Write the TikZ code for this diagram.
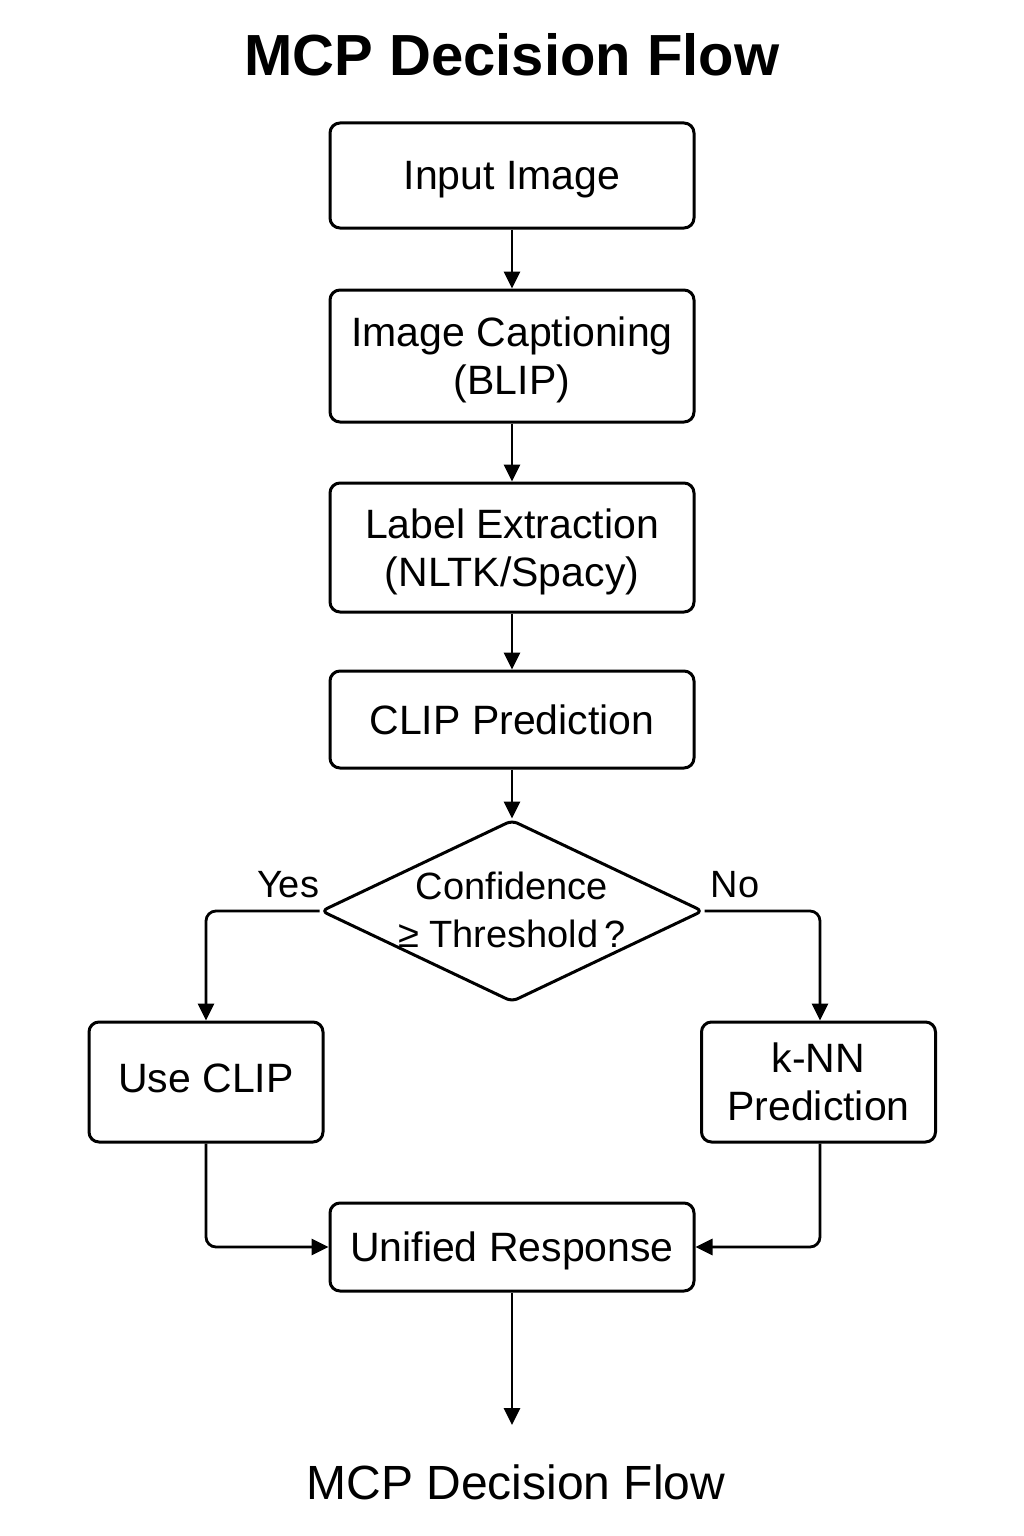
\documentclass[tikz,border=0pt]{standalone}
\usepackage{fontspec}
\setmainfont{Liberation Sans}
\usetikzlibrary{arrows.meta,shapes.geometric}
\begin{document}
\begin{tikzpicture}[x=1pt,y=-1pt,
  box/.style={draw=black,line width=3pt,rounded corners=10pt,inner sep=0pt,
    minimum width=364pt,align=center,text depth=0pt,font=\fontsize{41}{48}\selectfont},
  sidebox/.style={box,minimum width=234pt,minimum height=120pt},
  conn/.style={draw=black,line width=2.8pt,-{Triangle[length=17pt,width=16pt]}},
  lbl/.style={font=\fontsize{38}{44}\selectfont,inner sep=0pt}]
\useasboundingbox[fill=white] (0,0) rectangle (1024,1536);
\node[font=\fontsize{58}{64}\selectfont\bfseries] (title) at (512,55) {MCP Decision Flow};
\node[box,minimum height=105pt] (in) at (512,175.5) {Input Image};
\node[box,minimum height=132pt] (cap) at (512,356) {Image Captioning\\(BLIP)};
\node[box,minimum height=129pt] (lab) at (512,547.5) {Label Extraction\\(NLTK/Spacy)};
\node[box,minimum height=97pt] (clip) at (512,719.5) {CLIP Prediction};
\node[diamond,draw=black,line width=3pt,rounded corners=6pt,inner sep=0pt,
  minimum width=382pt,minimum height=182pt] (dec) at (512,911) {};
\node[lbl,align=center,text depth=0pt,font=\fontsize{38}{48}\selectfont] (dectext) at (512,910) {Confidence\\≥ Threshold\,?};
\node[lbl] (yes) at (288,885) {Yes};
\node[lbl] (no) at (735,885) {No};
\node[sidebox] (use) at (206,1082) {\raisebox{7pt}{Use CLIP}};
\node[sidebox] (knn) at (818.5,1082) {k-NN\\Prediction};
\node[box,minimum height=88pt] (uni) at (512,1247) {Unified Response};
\coordinate (end) at (512,1425);
\node[font=\fontsize{48}{54}\selectfont] (foot) at (516,1482) {MCP Decision Flow};
\draw[conn] (in) -- (cap);
\draw[conn] (cap) -- (lab);
\draw[conn] (lab) -- (clip);
\draw[conn] (clip) -- (dec.north);
\draw[conn,rounded corners=10pt] (dec.west) -| (use.north);
\draw[conn,rounded corners=10pt] (dec.east) -| ([xshift=1.5pt]knn.north);
\draw[conn,rounded corners=10pt] (use.south) |- (uni.west);
\draw[conn,rounded corners=10pt] ([xshift=1.5pt]knn.south) |- (uni.east);
\draw[conn] (uni) -- (end);
\end{tikzpicture}
\end{document}
